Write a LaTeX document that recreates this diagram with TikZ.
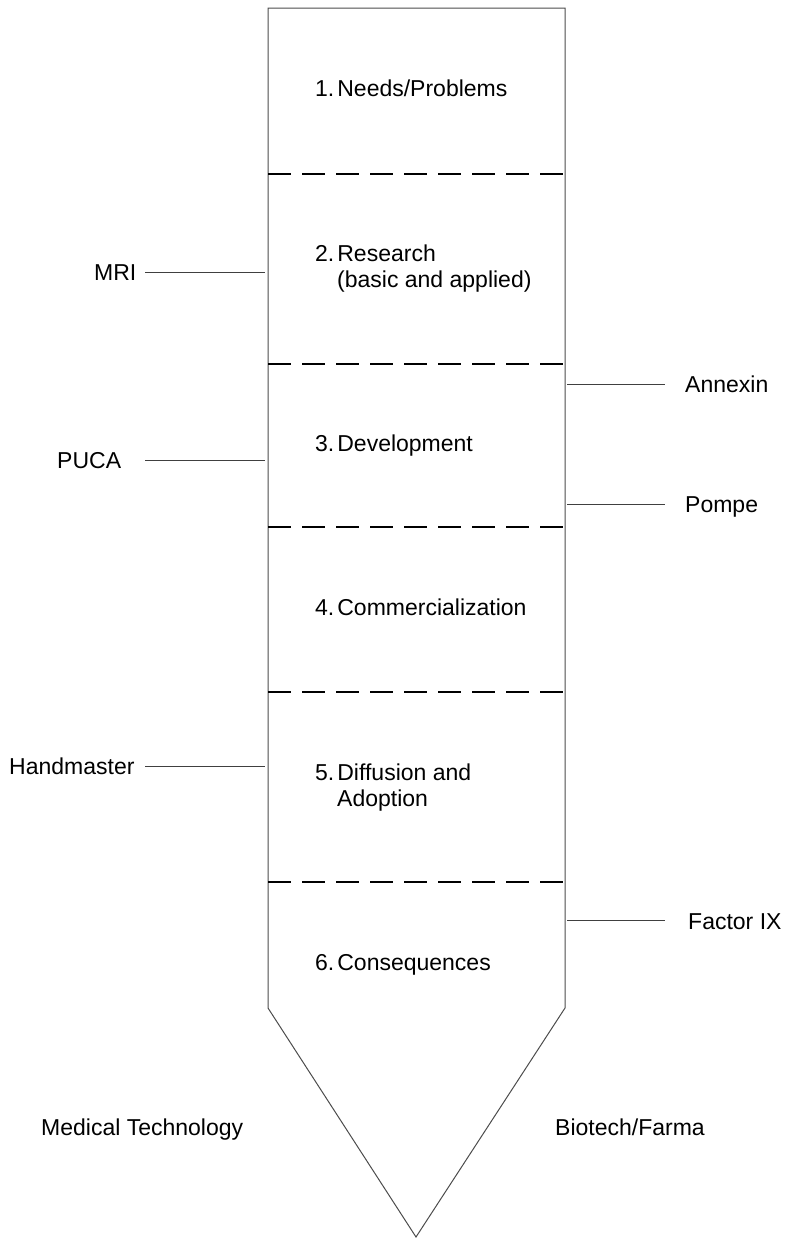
\documentclass[tikz,border=0pt]{standalone}
\usepackage{fontspec}
\setmainfont{Liberation Sans}
\newcommand{\numgap}{\hspace{3pt}}
\begin{document}
\begin{tikzpicture}[x=1pt,y=-1pt,
  lbl/.style={inner sep=0pt, anchor=base west, font=\fontsize{23}{27}\selectfont},
  outline/.style={draw=black!70, line width=1pt, line join=miter},
  sepline/.style={draw=black, line width=2pt, dash pattern=on 23pt off 11pt},
  conn/.style={draw=black!75, line width=1pt}]
\useasboundingbox (0,0) rectangle (786,1243);
% column outline
\coordinate (tl) at (268,8);
\coordinate (tr) at (565,8);
\coordinate (bl) at (268,1008);
\coordinate (br) at (565,1008);
\coordinate (tip) at (416,1237);
\draw[outline] (tl) -- (tr) -- (br) -- (tip) -- (bl) -- cycle;
% stage separators
\foreach \y [count=\i] in {174,364,527,692,882}{
  \coordinate (s\i l) at (268,\y);
  \coordinate (s\i r) at (565,\y);
  \draw[sepline] (s\i l) -- (s\i r);
}
% stage labels
\node[lbl] (st1) at (315,96) {1.\numgap Needs/Problems};
\node[lbl] (st2) at (315,261) {2.\numgap Research};
\node[lbl] (st2b) at (337,287) {(basic and applied)};
\node[lbl] (st3) at (315,451) {3.\numgap Development};
\node[lbl] (st4) at (315,615) {4.\numgap Commercialization};
\node[lbl] (st5) at (315,780) {5.\numgap Diffusion and};
\node[lbl] (st5b) at (337,806) {Adoption};
\node[lbl] (st6) at (315,970) {6.\numgap Consequences};
% left examples
\node[lbl] (mri) at (94,280) {MRI};
\node[lbl] (puca) at (57,468) {PUCA};
\node[lbl] (hand) at (9,774) {Handmaster};
\coordinate (mriL) at (145,272);   \coordinate (mriR) at (265,272);
\coordinate (pucaL) at (145,460);  \coordinate (pucaR) at (265,460);
\coordinate (handL) at (145,766);  \coordinate (handR) at (265,766);
\draw[conn] (mriL) -- (mriR);
\draw[conn] (pucaL) -- (pucaR);
\draw[conn] (handL) -- (handR);
% right examples
\node[lbl] (annexin) at (685,392) {Annexin};
\node[lbl] (pompe) at (685,512) {Pompe};
\node[lbl] (factor) at (688,929) {Factor IX};
\coordinate (annL) at (567,384);  \coordinate (annR) at (665,384);
\coordinate (pomL) at (567,504);  \coordinate (pomR) at (665,504);
\coordinate (facL) at (567,920);  \coordinate (facR) at (665,920);
\draw[conn] (annL) -- (annR);
\draw[conn] (pomL) -- (pomR);
\draw[conn] (facL) -- (facR);
% bottom captions
\node[lbl] (medtech) at (41,1135) {Medical Technology};
\node[lbl] (biotech) at (555,1135) {Biotech/Farma};
\end{tikzpicture}
\end{document}
